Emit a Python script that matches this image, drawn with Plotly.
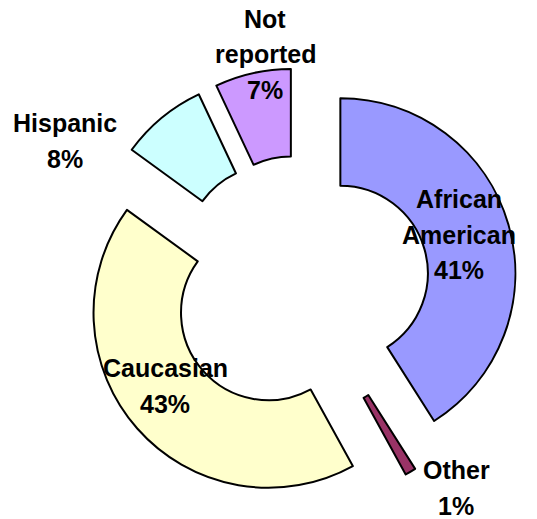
import plotly.graph_objects as go

# ---- data ----
categories = ["African American", "Other", "Caucasian", "Hispanic", "Not reported"]
label_lines = [["African", "American"], ["Other"], ["Caucasian"], ["Hispanic"], ["Not", "reported"]]
values = [41, 1, 43, 8, 7]

# ---- style / layout ----
colors = ["#9999FF", "#993366", "#FFFFCC", "#CCFFFF", "#CC99FF"]
W, H = 537, 519
# pixel position (centre x, centre y of first line) of each label block
label_anchor_px = [(459, 199), (456, 470), (165, 368), (65, 123), (265, 19)]
LINE_STEP = 35.5
FONT = dict(family="Liberation Sans", size=25, color="black", weight="bold")

fig = go.Figure(go.Pie(
    labels=categories,
    values=values,
    textinfo="none",
    sort=False,
    direction="clockwise",
    rotation=0,
    hole=0.5,
    pull=0.24,
    marker=dict(colors=colors, line=dict(color="black", width=2)),
    domain=dict(x=[0.1546, 0.9628], y=[0.0328, 0.869]),
    showlegend=False,
    hoverinfo="label+percent",
))

total = sum(values)
annotations = []
for cat_lines, v, (ax, ay) in zip(label_lines, values, label_anchor_px):
    lines = cat_lines + [f"{round(100 * v / total)}%"]
    for i, line in enumerate(lines):
        annotations.append(dict(
            x=ax / W, y=1 - (ay + i * LINE_STEP) / H,
            xref="paper", yref="paper",
            xanchor="center", yanchor="middle",
            text=line, showarrow=False, font=FONT,
        ))

fig.update_layout(
    width=W, height=H,
    margin=dict(l=0, r=0, t=0, b=0),
    paper_bgcolor="white",
    plot_bgcolor="white",
    annotations=annotations,
)

fig.write_html(
    "out.html",
    config={"displayModeBar": False},
    post_script="document.body.style.margin='0';",
)
